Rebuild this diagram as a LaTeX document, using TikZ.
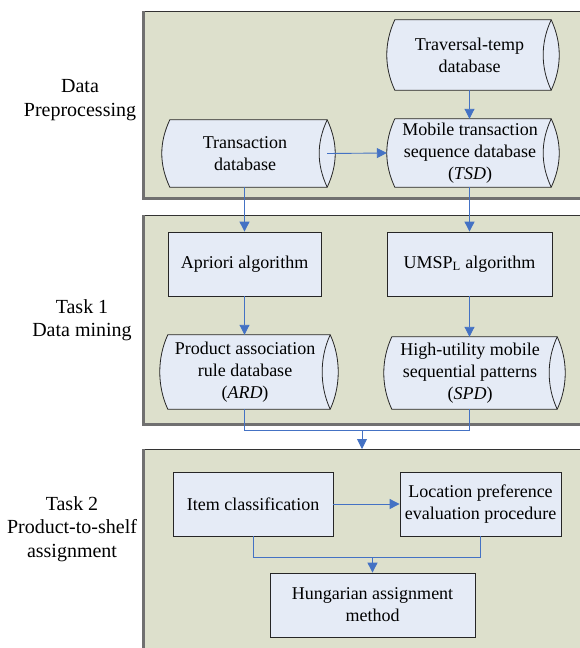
\documentclass[tikz,border=0pt]{standalone}
\usepackage{fontspec}
\setmainfont{Liberation Serif}
\usetikzlibrary{arrows.meta}

\definecolor{panelfill}{RGB}{221,224,204}
\definecolor{panelline}{RGB}{112,112,112}
\definecolor{boxfill}{RGB}{229,235,246}
\definecolor{flow}{RGB}{68,114,196}

\tikzset{
  panel/.style={draw=black!80, line width=0.9pt, fill=panelfill, rectangle, inner sep=0pt, anchor=north west},
  panelshade/.style={draw=panelline, line width=2.4pt},
  stepbox/.style={draw=black!85, line width=0.8pt, fill=boxfill, rectangle, align=center,
    font=\fontsize{18}{22}\selectfont, inner sep=0pt},
  dbtext/.style={rectangle, align=center, font=\fontsize{18}{22}\selectfont, inner sep=0pt},
  sidelabel/.style={align=center, font=\fontsize{20}{23.5}\selectfont, inner sep=0pt},
  flowline/.style={draw=flow, line width=0.9pt},
  flowarrow/.style={flowline, -{Triangle[length=10pt,width=10pt]}},
  dbline/.style={draw=black!85, line width=0.8pt, fill=boxfill},
}

% horizontal cylinder around a named node: bowed end on the left,
% bowed end with its inner edge on the right (bulge about 8pt)
\newcommand{\dbbody}[1]{%
  \path[dbline]
    (#1.north west) -- (#1.north east)
    .. controls ([xshift=10.7pt,yshift=-23pt]#1.north east) and ([xshift=10.7pt,yshift=23pt]#1.south east) .. (#1.south east)
    -- (#1.south west)
    .. controls ([xshift=-10.7pt,yshift=23pt]#1.south west) and ([xshift=-10.7pt,yshift=-23pt]#1.north west) .. (#1.north west)
    -- cycle;
  \draw[draw=black!85, line width=0.8pt]
    (#1.north east)
    .. controls ([xshift=-10.7pt,yshift=-23pt]#1.north east) and ([xshift=-10.7pt,yshift=23pt]#1.south east) .. (#1.south east);
}

% grey edge along the left and bottom of a stage panel
\newcommand{\paneledge}[1]{%
  \draw[panelshade] ([xshift=-0.6pt]#1.north west) -- ([xshift=-0.6pt,yshift=-0.6pt]#1.south west)
    -- ([yshift=-0.6pt]#1.south east);
}

\begin{document}
\begin{tikzpicture}[x=1pt, y=-1pt]
\useasboundingbox (0,0) rectangle (579,648);

% stage panels
\node[panel, minimum width=445pt, minimum height=186pt] (p1) at (144,11) {};
\node[panel, minimum width=445pt, minimum height=208pt] (p2) at (144,215) {};
\node[panel, minimum width=445pt, minimum height=215pt] (p3) at (144,449) {};
\paneledge{p1}
\paneledge{p2}
\paneledge{p3}

% stage labels
\node[sidelabel] (l1) at (80,100) {Data\\Preprocessing};
\node[sidelabel] (l2) at (82,320) {Task 1\\Data mining};
\node[sidelabel] (l3) at (72,529) {Task 2\\Product-to-shelf\\assignment};

% databases of the preprocessing stage
\node[dbtext, minimum width=156pt, minimum height=70pt] (trav) at (473,55) {};
\node[dbtext, minimum width=157pt, minimum height=67pt] (trans) at (248.5,153.5) {};
\node[dbtext, minimum width=156pt, minimum height=68pt] (tsd) at (473,153) {};
% mining outputs
\node[dbtext, minimum width=162pt, minimum height=74pt] (ard) at (249,372) {};
\node[dbtext, minimum width=165pt, minimum height=72pt] (spd) at (474.5,373) {};

\dbbody{trav}
\dbbody{trans}
\dbbody{tsd}
\dbbody{ard}
\dbbody{spd}

\node[dbtext] (travt) at (469.5,55) {Traversal-temp\\database};
\node[dbtext] (transt) at (245,153.5) {Transaction\\database};
\node[dbtext] (tsdt) at (470,153) {Mobile transaction\\sequence database\\(\textit{TSD})};
\node[dbtext] (ardt) at (245,372) {Product association\\rule database\\(\textit{ARD})};
\node[dbtext] (spdt) at (470,373) {High-utility mobile\\sequential patterns\\(\textit{SPD})};

% algorithms
\node[stepbox, minimum width=153pt, minimum height=64pt] (apr) at (244.5,264) {Apriori algorithm};
\node[stepbox, minimum width=165pt, minimum height=64pt] (umsp) at (469.5,264) {UMSP\textsubscript{L} algorithm};

% assignment steps
\node[stepbox, minimum width=160pt, minimum height=64pt] (item) at (253,504) {Item classification};
\node[stepbox, minimum width=161pt, minimum height=64pt] (loc) at (480.5,504) {Location preference\\evaluation procedure};
\node[stepbox, minimum width=205pt, minimum height=64pt] (hung) at (372.5,605) {Hungarian assignment\\method};

% flow of the preprocessing stage
\draw[flowarrow] (trav.south -| umsp) -- (tsd.north -| umsp);
\draw[flowarrow] (trans.east) -- ([xshift=-8pt]tsd.west);

% into the mining stage
\draw[flowarrow] (trans.south -| apr) -- (apr.north);
\draw[flowarrow] (tsd.south -| umsp) -- (umsp.north);
\draw[flowarrow] (apr.south) -- (ard.north -| apr);
\draw[flowarrow] (umsp.south) -- (spd.north -| umsp);

% mining results merge into the assignment stage
\coordinate (m1) at (362,430);
\draw[flowline] (ard.south -| apr) |- (m1);
\draw[flowline] (spd.south -| umsp) |- (m1);
\draw[flowarrow] (m1) -- (m1 |- p3.north);

% assignment flow
\draw[flowarrow] (item.east) -- (loc.west);
\coordinate (m2) at (372.5,557);
\draw[flowline] (item.south) |- (m2);
\draw[flowline] (loc.south) |- (m2);
\draw[flowarrow] (m2) -- (hung.north);
\end{tikzpicture}
\end{document}
